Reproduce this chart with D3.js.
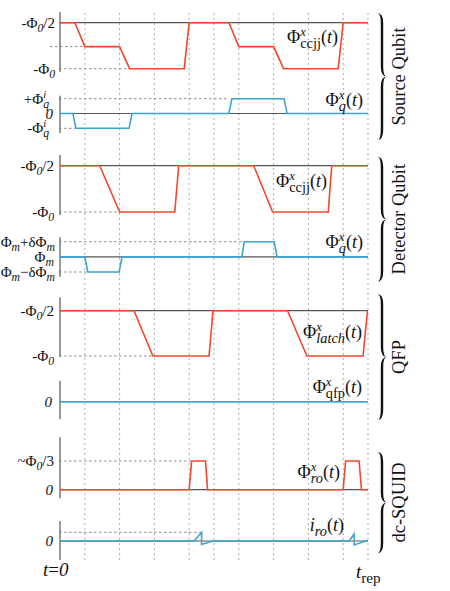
<!DOCTYPE html>
<html>
<head>
<meta charset="utf-8">
<script src="https://cdnjs.cloudflare.com/ajax/libs/d3/7.8.5/d3.min.js"></script>
<style>
body { margin: 0; background: #fff; }
text { font-family: "Liberation Serif", "DejaVu Serif", serif; fill: #111; }
</style>
</head>
<body>
<svg width="450" height="591"></svg>
<script>
// time markers (arbitrary units, one repetition = 31)
var gridTimes = [5, 12, 19, 26, 31, 36, 43, 50, 57, 62];

// source qubit
var srcCcjjT = [0, 3, 5, 12, 14, 25, 26, 34, 36, 43, 45, 56, 57, 62];
var srcCcjjV = [-0.5, -0.5, -0.76, -0.76, -1, -1, -0.5, -0.5, -0.76, -0.76, -1, -1, -0.5, -0.5];
var srcQT = [0, 2.6, 3.2, 13.9, 14.5, 34, 34.6, 45.1, 45.7, 62];
var srcQV = [0, 0, -1, -1, 0, 0, 1, 1, 0, 0];

// detector qubit
var detCcjjT = [0, 8, 12, 23.1, 23.9, 39, 42.8, 54, 54.7, 62];
var detCcjjV = [-0.5, -0.5, -1, -1, -0.5, -0.5, -1, -1, -0.5, -0.5];
var detQT = [0, 5, 5.6, 11.9, 12.5, 36.6, 37.1, 43.1, 43.7, 62];
var detQV = [0, 0, -1, -1, 0, 0, 1, 1, 0, 0];

// QFP
var latchT = [0, 14.9, 18.7, 30, 30.8, 45.8, 49.7, 61, 61.9];
var latchV = [-0.5, -0.5, -1, -1, -0.5, -0.5, -1, -1, -0.5];
var qfpT = [0, 62];
var qfpV = [0, 0];

// dc-SQUID
var roT = [0, 26, 26.5, 29.3, 29.7, 57, 57.5, 60.2, 60.7, 62];
var roV = [0, 0, 1, 1, 0, 0, 1, 1, 0, 0];
var iroT = [0, 27, 28.5, 28.5, 30.8, 58.2, 59.2, 59.2, 61.5, 62];
var iroV = [0, 0, 1, -0.4, 0, 0, 0.8, -0.45, 0, 0];

// tick labels: [text, kind] parts, kind n / i / sb / sbi / sp / spi
var phi0Half = [["-\u03a6", "n"], ["0", "sbi"], ["/2", "n"]];
var phi0 = [["-\u03a6", "n"], ["0", "sbi"]];
var zero = [["0", "i"]];
var qPlus = [["+\u03a6", "n"], ["i", "spi"], ["q", "sbi"]];
var qMinus = [["-\u03a6", "n"], ["i", "spi"], ["q", "sbi"]];
var mPlus = [["\u03a6", "n"], ["m", "sbi"], ["+\u03b4\u03a6", "n"], ["m", "sbi"]];
var mMid = [["\u03a6", "n"], ["m", "sbi"]];
var mMinus = [["\u03a6", "n"], ["m", "sbi"], ["\u2212\u03b4\u03a6", "n"], ["m", "sbi"]];
var phi0Third = [["~\u03a6", "n"], ["0", "sbi"], ["/3", "n"]];

// trace labels
var ccjjLabel = [["\u03a6", "n"], ["x", "spi"], ["ccjj", "sb"], ["(", "n"], ["t", "i"], [")", "n"]];
var qLabel = [["\u03a6", "n"], ["x", "spi"], ["q", "sbi"], ["(", "n"], ["t", "i"], [")", "n"]];
var latchLabel = [["\u03a6", "n"], ["x", "spi"], ["latch", "sbi"], ["(", "n"], ["t", "i"], [")", "n"]];
var qfpLabel = [["\u03a6", "n"], ["x", "spi"], ["qfp", "sb"], ["(", "n"], ["t", "i"], [")", "n"]];
var roLabel = [["\u03a6", "n"], ["x", "spi"], ["ro", "sbi"], ["(", "n"], ["t", "i"], [")", "n"]];
var iroLabel = [["i", "i"], ["ro", "sbi"], ["(", "n"], ["t", "i"], [")", "n"]];

var groups = ["Source Qubit", "Detector Qubit", "QFP", "dc-SQUID"];

var red = "#f4472d", blue = "#3ba4cf";

var svg = d3.select("svg");
var x = d3.scaleLinear().domain([0, 62]).range([60, 368]);

var panels = [
    {t: srcCcjjT, v: srcCcjjV, color: red, dom: [-1, -0.5], px: [68.7, 22.7], axis: [12, 72], ref: -0.5,
     guides: [[-0.76, 50, 5], [-1, 59, 14]],
     ticks: [[-0.5, phi0Half, 55], [-1, phi0, 55]], label: ccjjLabel, labelAt: [338, 43]},
    {t: srcQT, v: srcQV, color: blue, dom: [-1, 1], px: [128.3, 98.7], axis: [95.7, 133], ref: 0,
     guides: [[1, 59, 34], [-1, 59, 3.2]],
     ticks: [[1, qPlus, 49], [0, zero, 53], [-1, qMinus, 49]], label: qLabel, labelAt: [363, 106]},
    {t: detCcjjT, v: detCcjjV, color: red, dom: [-1, -0.5], px: [212, 165.7], axis: [155, 215], ref: -0.5,
     guides: [[-1, 59, 12]],
     ticks: [[-0.5, phi0Half, 54], [-1, phi0, 54]], label: ccjjLabel, labelAt: [327, 187]},
    {t: detQT, v: detQV, color: blue, dom: [-1, 1], px: [272, 241.7], axis: [237.3, 276.7], ref: 0,
     guides: [[1, 59, 36.6], [-1, 59, 5.6]],
     ticks: [[1, mPlus, 55], [0, mMid, 54], [-1, mMinus, 55]], label: qLabel, labelAt: [363, 248]},
    {t: latchT, v: latchV, color: red, dom: [-1, -0.5], px: [356, 310.7], axis: [297.3, 356.7], ref: -0.5,
     guides: [[-1, 59, 18.7]],
     ticks: [[-0.5, phi0Half, 54], [-1, phi0, 54]], label: latchLabel, labelAt: [362, 338]},
    {t: qfpT, v: qfpV, color: blue, dom: [-1, 1], px: [416.7, 386.7], axis: [380.7, 419.3], ref: 0,
     guides: [],
     ticks: [[0, zero, 52]], label: qfpLabel, labelAt: [362, 393]},
    {t: roT, v: roV, color: red, dom: [0, 1], px: [489.7, 461], axis: [437.3, 498.3], ref: 0,
     guides: [[1, 59, 26.5]],
     ticks: [[1, phi0Third, 54], [0, zero, 53]], label: roLabel, labelAt: [340, 478]},
    {t: iroT, v: iroV, color: blue, dom: [0, 1], px: [541, 532.3], axis: [521, 560], ref: 0,
     guides: [[1, 59, 28.5]],
     ticks: [[0, zero, 53]], label: iroLabel, labelAt: [344, 531]}
];

var braces = [[13, 140], [156.7, 281.7], [294, 420], [451.7, 553.3]];

function richText(g, parts, base, subScale) {
    var text = g.append("text").style("font-size", base + "px");
    var cur = 0, lastSup = null;
    parts.forEach(function(p) {
        var s = p[0], k = p[1];
        var off = 0, size = base;
        if (k.indexOf("sb") === 0) { off = base * 0.27; size = base * subScale; }
        if (k.indexOf("sp") === 0) { off = -base * 0.4; size = base * 0.7; }
        var ts = text.append("tspan").text(s)
            .attr("dy", off - cur)
            .style("font-size", size + "px")
            .style("font-style", /i$/.test(k) ? "italic" : "normal");
        if (k.indexOf("sb") === 0 && lastSup) ts.attr("dx", -lastSup.node().getComputedTextLength());
        lastSup = k.indexOf("sp") === 0 ? ts : null;
        cur = off;
    });
    return text;
}

function bracePath(x0, y1, y2, w) {
    var ym = (y1 + y2) / 2, xa = x0 + w * 0.5, xt = x0 + w, r = 10, h = 1.2;
    var p = d3.path();
    p.moveTo(x0, y1);
    p.quadraticCurveTo(xa + h, y1, xa + h, y1 + r);
    p.lineTo(xa + h, ym - r);
    p.quadraticCurveTo(xa + h, ym, xt, ym);
    p.quadraticCurveTo(xa + h, ym, xa + h, ym + r);
    p.lineTo(xa + h, y2 - r);
    p.quadraticCurveTo(xa + h, y2, x0, y2);
    p.quadraticCurveTo(xa - h, y2, xa - h, y2 - r);
    p.lineTo(xa - h, ym + r);
    p.quadraticCurveTo(xa - h, ym, xt, ym);
    p.quadraticCurveTo(xa - h, ym, xa - h, ym - r);
    p.lineTo(xa - h, y1 + r);
    p.quadraticCurveTo(xa - h, y1, x0, y1);
    p.closePath();
    return p.toString();
}

// vertical time markers
svg.append("g")
    .selectAll("line")
    .data(gridTimes)
    .enter().append("line")
    .attr("x1", function(d) { return x(d); })
    .attr("x2", function(d) { return x(d); })
    .attr("y1", 13)
    .attr("y2", 562)
    .attr("stroke", "#aaa")
    .attr("stroke-width", 1)
    .attr("stroke-dasharray", "2,3");

panels.forEach(function(pn) {
    var y = d3.scaleLinear().domain(pn.dom).range(pn.px);
    var g = svg.append("g");

    g.selectAll(".guide")
        .data(pn.guides)
        .enter().append("line")
        .attr("x1", function(d) { return d[1]; })
        .attr("x2", function(d) { return x(d[2]); })
        .attr("y1", function(d) { return y(d[0]); })
        .attr("y2", function(d) { return y(d[0]); })
        .attr("stroke", "#8c8c8c")
        .attr("stroke-width", 1)
        .attr("stroke-dasharray", "2.5,2.5");

    g.append("line")
        .attr("x1", x(0)).attr("x2", x(62))
        .attr("y1", y(pn.ref)).attr("y2", y(pn.ref))
        .attr("stroke", "#555")
        .attr("stroke-width", 1.2);

    g.append("line")
        .attr("x1", x(0)).attr("x2", x(0))
        .attr("y1", pn.axis[0]).attr("y2", pn.axis[1])
        .attr("stroke", "#777")
        .attr("stroke-width", 1.5);

    var line = d3.line()
        .x(function(d) { return x(d[0]); })
        .y(function(d) { return y(d[1]); });

    g.append("path")
        .datum(d3.zip(pn.t, pn.v))
        .attr("d", line)
        .attr("fill", "none")
        .attr("stroke", pn.color)
        .attr("stroke-width", 1.6);

    pn.ticks.forEach(function(tk) {
        richText(g, tk[1], 15, 0.78)
            .attr("x", tk[2])
            .attr("y", y(tk[0]) + 5)
            .attr("text-anchor", "end");
    });

    richText(g, pn.label, 18, 0.8)
        .attr("x", pn.labelAt[0])
        .attr("y", pn.labelAt[1])
        .attr("text-anchor", "end");
});

// group braces and names
braces.forEach(function(b, i) {
    svg.append("path")
        .attr("d", bracePath(377, b[0], b[1], 10))
        .attr("fill", "#111");
    svg.append("text")
        .attr("transform", "translate(405," + ((b[0] + b[1]) / 2) + ") rotate(-90)")
        .attr("text-anchor", "middle")
        .style("font-size", "18.5px")
        .text(groups[i]);
});

richText(svg, [["t", "i"], ["=", "n"], ["0", "i"]], 19, 0.78)
    .attr("x", 43).attr("y", 576);
richText(svg, [["t", "i"], ["rep", "sb"]], 19, 0.8)
    .attr("x", 356).attr("y", 578);
</script>
</body>
</html>
